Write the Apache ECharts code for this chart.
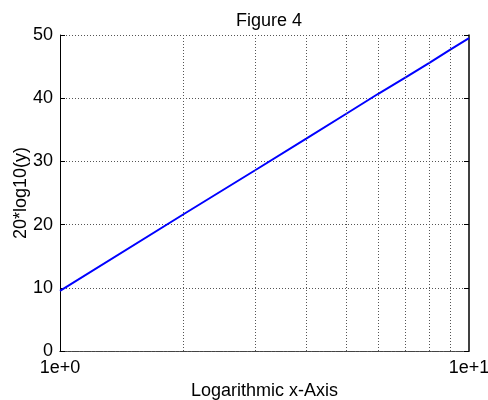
<!DOCTYPE html>
<html><head><meta charset="utf-8">
<script src="https://cdn.jsdelivr.net/npm/echarts@6/dist/echarts.min.js"></script>
<style>html,body{margin:0;padding:0;background:#fff}#c{width:488px;height:400px}</style>
</head><body><div id="c"></div>
<script>
var xValues = [1, 2, 3, 4, 5, 6, 7, 8, 9, 10];
var yValues = [9.5, 21.6, 28.6, 33.6, 37.5, 40.7, 43.3, 45.6, 47.7, 49.5];
var minorGridX = [2, 3, 4, 5, 6, 7, 8, 9];
var yTicks = [0, 10, 20, 30, 40, 50];

var font = 'Liberation Sans, Arial, sans-serif';
var chart = echarts.init(document.getElementById('c'), null, {renderer: 'canvas'});
var dotted = {color: '#555', type: [1, 2], width: 1};
var dashedBox = {color: '#444', type: [3, 1], width: 1};
chart.setOption({
  animation: false,
  title: {text: 'Figure 4', left: 264, top: 7, textAlign: 'center',
    textStyle: {fontFamily: font, fontSize: 18, fontWeight: 'normal', color: '#000'}},
  grid: {left: 60, right: 19, top: 35, bottom: 49, containLabel: false, outerBoundsMode: 'none'},
  xAxis: [{
    type: 'log', logBase: 10, min: 1, max: 10,
    name: 'Logarithmic x-Axis', nameLocation: 'middle', nameGap: 31, nameMoveOverlap: false,
    nameTextStyle: {fontFamily: font, fontSize: 18, color: '#000'},
    axisLine: {show: true, lineStyle: dashedBox},
    axisTick: {show: false},
    splitLine: {show: false},
    axisLabel: {fontFamily: font, fontSize: 18, color: '#000', margin: 8,
      formatter: function (v) { return '1e+' + Math.round(Math.log10(v)); }}
  }, {
    type: 'log', logBase: 10, min: 1, max: 10, position: 'top',
    axisLine: {show: true, lineStyle: dashedBox},
    axisTick: {show: false}, axisLabel: {show: false}, splitLine: {show: false}
  }],
  yAxis: [{
    type: 'value', min: 0, max: 50, interval: 10,
    name: '20*log10(y)', nameLocation: 'middle', nameGap: 30, nameMoveOverlap: false,
    nameTextStyle: {fontFamily: font, fontSize: 18, color: '#000'},
    axisLine: {show: true, lineStyle: {color: '#000', width: 1}},
    axisTick: {show: true, inside: true, length: 5, lineStyle: {color: '#000'}},
    splitLine: {show: true, lineStyle: dotted},
    axisLabel: {fontFamily: font, fontSize: 18, color: '#000', margin: 7,
      padding: [6, 0, 0, 0]}
  }, {
    type: 'value', min: 0, max: 50, interval: 10, position: 'right',
    axisLine: {show: true, lineStyle: {color: '#000', width: 1.5}},
    axisTick: {show: true, inside: true, length: 5, lineStyle: {color: '#000'}},
    axisLabel: {show: false}, splitLine: {show: false}
  }],
  series: [{
    type: 'line', xAxisIndex: 0, yAxisIndex: 0,
    data: xValues.map(function (x, i) { return [x, yValues[i]]; }),
    showSymbol: false, symbol: 'none',
    lineStyle: {color: '#0000ff', width: 2},
    markLine: {
      silent: true, symbol: 'none', label: {show: false},
      lineStyle: dotted,
      data: minorGridX.map(function (v) { return {xAxis: v}; })
    }
  }]
});
</script></body></html>
